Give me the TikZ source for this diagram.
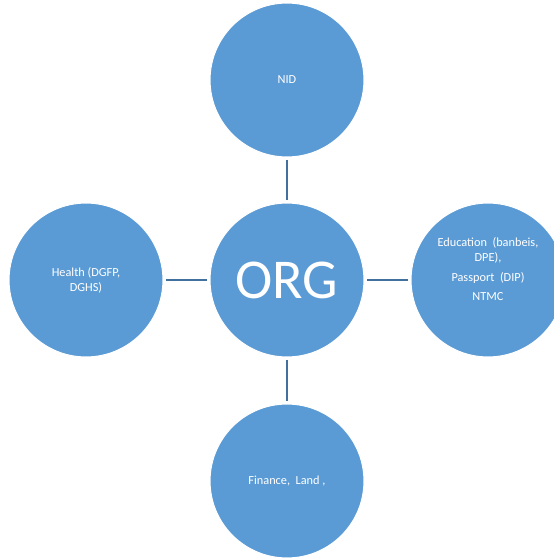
\documentclass[tikz,border=0pt]{standalone}
\usepackage{fontspec}
\setmainfont{Carlito}
\definecolor{ORGblue}{HTML}{5B9BD5}
\definecolor{ORGline}{HTML}{41719C}
\usetikzlibrary{positioning}

\begin{document}
\begin{tikzpicture}[x=0.02cm, y=-0.02cm,
      bubble/.style={circle, fill=ORGblue, draw=white, line width=0.6pt,
         minimum size=3.08cm, inner sep=0pt, text=white, align=center,
         font=\fontsize{7}{8.5}\selectfont},
      hub/.style={bubble, font=\fontsize{32}{36}\selectfont},
      link/.style={ORGline, line width=1.2pt, shorten <=1.5pt, shorten >=1.5pt}]

      % Canvas (right circle runs off the edge)
      \useasboundingbox (0,0) rectangle (554,559);
      \clip (0,0) rectangle (554,559);

      % Centre
      \node[hub] (org) at (287,280) {ORG};

      % Surrounding bubbles
      \node[bubble] (nid) at (287,80) {NID};
      \node[bubble] (health) at (86,280) {Health (DGFP,\\ DGHS)};
      \node[bubble] (edu) at (488,280) {Education~~(banbeis,\\ DPE),\\[3pt] Passport~~(DIP)\\[2pt] NTMC\\[4pt]};
      \node[bubble] (finance) at (287,481) {Finance,~ Land~,};

      % Connectors
      \draw[link] (org) -- (nid);
      \draw[link] (org) -- (health);
      \draw[link] (org) -- (edu);
      \draw[link] (org) -- (finance);
   \end{tikzpicture}
\end{document}
